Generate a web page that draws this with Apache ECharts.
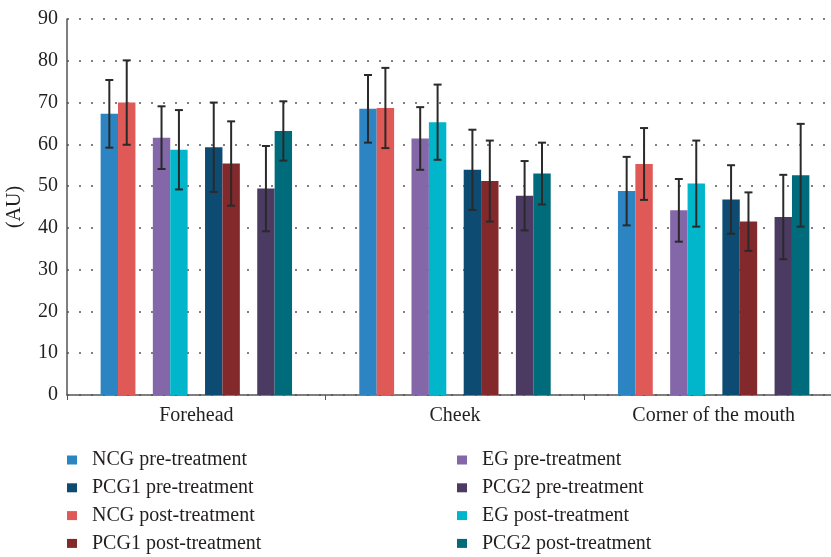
<!DOCTYPE html>
<html>
<head>
<meta charset="utf-8">
<script src="https://cdn.jsdelivr.net/npm/echarts@6/dist/echarts.min.js"></script>
<style>html,body{margin:0;padding:0;background:#fff}#c{width:831px;height:557px}</style>
</head>
<body>
<div id="c"></div>
<script>
var categories = ['Forehead', 'Cheek', 'Corner of the mouth'];
var yTicks = [0, 10, 20, 30, 40, 50, 60, 70, 80, 90];

var ncgPre = [67.3, 68.5, 48.8];
var ncgPreSD = [8.1, 8.1, 8.2];
var ncgPost = [70.0, 68.7, 55.3];
var ncgPostSD = [10.1, 9.6, 8.6];
var egPre = [61.6, 61.4, 44.2];
var egPreSD = [7.5, 7.5, 7.5];
var egPost = [58.7, 65.3, 50.6];
var egPostSD = [9.5, 9.0, 10.3];
var pcg1Pre = [59.3, 53.9, 46.8];
var pcg1PreSD = [10.7, 9.6, 8.2];
var pcg1Post = [55.4, 51.2, 41.5];
var pcg1PostSD = [10.1, 9.7, 7.0];
var pcg2Pre = [49.4, 47.7, 42.6];
var pcg2PreSD = [10.2, 8.3, 10.1];
var pcg2Post = [63.2, 53.0, 52.6];
var pcg2PostSD = [7.1, 7.4, 12.3];

var FONT = 'Liberation Serif';
var GAP = 0.26;
var SLOTS = 11;

var groups = [
  {name: 'NCG pre-treatment', data: ncgPre, sd: ncgPreSD, color: '#2c84c3', slot: 0},
  {name: 'NCG post-treatment', data: ncgPost, sd: ncgPostSD, color: '#df5956', slot: 1},
  {name: 'EG pre-treatment', data: egPre, sd: egPreSD, color: '#8467a9', slot: 3},
  {name: 'EG post-treatment', data: egPost, sd: egPostSD, color: '#01b6cb', slot: 4},
  {name: 'PCG1 pre-treatment', data: pcg1Pre, sd: pcg1PreSD, color: '#0e4b72', slot: 6},
  {name: 'PCG1 post-treatment', data: pcg1Post, sd: pcg1PostSD, color: '#83282b', slot: 7},
  {name: 'PCG2 pre-treatment', data: pcg2Pre, sd: pcg2PreSD, color: '#4b3a62', slot: 9},
  {name: 'PCG2 post-treatment', data: pcg2Post, sd: pcg2PostSD, color: '#006b7b', slot: 10}
];

var series = [];
var slotMap = {};
groups.forEach(function(g){ slotMap[g.slot] = g; });
for (var s = 0; s < SLOTS; s++) {
  var g = slotMap[s];
  if (g) {
    series.push({
      type: 'bar', name: g.name, data: g.data,
      barGap: '0%', barCategoryGap: (GAP*100) + '%',
      itemStyle: {color: g.color},
      emphasis: {disabled: true}
    });
  } else {
    series.push({
      type: 'bar', name: '_spacer' + s, data: ['-', '-', '-'],
      barGap: '0%', barCategoryGap: (GAP*100) + '%',
      itemStyle: {color: 'rgba(0,0,0,0)'}
    });
  }
}

function makeErr(slot) {
  return function(params, api) {
    var x = api.value(0), m = api.value(1), sd = api.value(2);
    var band = api.size([1, 0])[0];
    var bw = band * (1 - GAP) / SLOTS;
    var c = api.coord([x, m]);
    var cx = c[0] + (slot - (SLOTS - 1) / 2) * bw;
    var yt = api.coord([x, m + sd])[1];
    var yb = api.coord([x, m - sd])[1];
    var hw = 4;
    var st = {stroke: '#2a2a2a', lineWidth: 2};
    return {
      type: 'group',
      children: [
        {type: 'line', shape: {x1: cx, y1: yt, x2: cx, y2: yb}, style: st},
        {type: 'line', shape: {x1: cx - hw, y1: yt, x2: cx + hw, y2: yt}, style: st},
        {type: 'line', shape: {x1: cx - hw, y1: yb, x2: cx + hw, y2: yb}, style: st}
      ]
    };
  };
}

groups.forEach(function(g){
  series.push({
    type: 'custom', name: g.name,
    renderItem: makeErr(g.slot),
    data: g.data.map(function(v, i){ return [i, v, g.sd[i]]; }),
    encode: {x: 0, y: 1},
    z: 5, silent: true,
    itemStyle: {color: g.color}
  });
});

var legendText = {fontFamily: FONT, fontSize: 20, color: '#231f20', lineHeight: 18, padding: [0, 0, 0, 10]};

var option = {
  animation: false,
  backgroundColor: '#fff',
  grid: {left: 67, width: 776, top: 19, bottom: 162, containLabel: false, outerBoundsMode: 'none'},
  legend: [
    {orient: 'vertical', left: 67, top: 450, height: 110, padding: 0, itemWidth: 10, itemHeight: 9, itemGap: 7.8, icon: 'rect',
     data: ['NCG pre-treatment', 'PCG1 pre-treatment', 'NCG post-treatment', 'PCG1 post-treatment'],
     textStyle: legendText},
    {orient: 'vertical', left: 457, top: 450, height: 110, padding: 0, itemWidth: 10, itemHeight: 9, itemGap: 7.8, icon: 'rect',
     data: ['EG pre-treatment', 'PCG2 pre-treatment', 'EG post-treatment', 'PCG2 post-treatment'],
     textStyle: legendText}
  ],
  xAxis: {
    type: 'category', data: categories,
    axisLine: {lineStyle: {color: '#555', width: 1.5}},
    axisTick: {show: true, length: 5, lineStyle: {color: '#555'}},
    axisLabel: {fontFamily: FONT, fontSize: 20, color: '#231f20', margin: 11}
  },
  yAxis: {
    type: 'value', min: yTicks[0], max: yTicks[yTicks.length - 1], interval: 10,
    name: '(AU)', nameLocation: 'middle', nameGap: 42, nameRotate: 90,
    nameTextStyle: {fontFamily: FONT, fontSize: 20, color: '#231f20'},
    axisLine: {show: true, lineStyle: {color: '#555', width: 1.5}},
    axisTick: {show: false},
    axisLabel: {fontFamily: FONT, fontSize: 20, color: '#231f20', margin: 9},
    splitLine: {show: true, lineStyle: {color: '#555', type: [2, 10], width: 1.5}}
  },
  series: series
};

var chart = echarts.init(document.getElementById('c'), null, {renderer: 'canvas'});
chart.setOption(option);
</script>
</body>
</html>
